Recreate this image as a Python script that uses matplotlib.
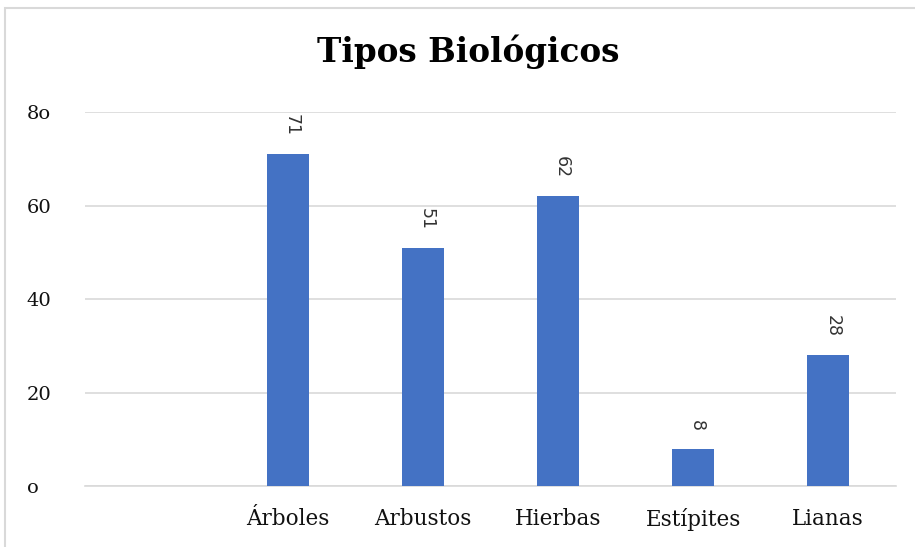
import matplotlib
matplotlib.use('Agg')
import matplotlib.pyplot as plt
from matplotlib.patches import Rectangle

# Tipos biologicos - conteo de especies
categorias = ['', 'Árboles', 'Arbustos', 'Hierbas', 'Estípites', 'Lianas']
valores = [0, 71, 51, 62, 8, 28]
yticks = [0, 20, 40, 60, 80]
ytick_labels = ['o', '20', '40', '60', '8o']

fig = plt.figure(figsize=(9.15, 5.47), dpi=100)
ax = fig.add_axes([0.093, 0.1115, 0.886, 0.6835])

x = range(len(categorias))
ax.bar(x[1:], valores[1:], width=0.31, color='#4472C4', zorder=3)

for xi, v in zip(x[1:], valores[1:]):
    ax.text(xi + 0.03, v + 3.8, str(v), rotation=-90, ha='center', va='bottom',
            fontsize=12.5, color='#333333', family='DejaVu Sans')

ax.set_xlim(-0.5, len(categorias) - 0.5)
ax.set_ylim(0, 80)
ax.set_yticks(yticks)
ax.set_yticklabels(ytick_labels, family='DejaVu Serif', fontsize=14, color='#111111')
ax.set_xticks(list(x))
ax.set_xticklabels(categorias, family='DejaVu Serif', fontsize=15.5, color='#111111')
ax.tick_params(axis='x', length=0, pad=16)
ax.tick_params(axis='y', length=0, pad=42)
for lbl in ax.get_yticklabels():
    lbl.set_horizontalalignment('left')

ax.grid(axis='y', color='#d9d9d9', linewidth=1.2, zorder=0)
for s in ['top', 'right', 'left']:
    ax.spines[s].set_visible(False)
ax.spines['bottom'].set_color('#d9d9d9')
ax.spines['bottom'].set_linewidth(1.2)

fig.text(0.512, 0.905, 'Tipos Biológicos', ha='center', va='center',
         fontsize=23.5, fontweight='bold', family='DejaVu Serif')

# marco exterior
fig.patches.append(Rectangle((0.006, -0.1), 1.2, 1.085, transform=fig.transFigure,
                             fill=False, edgecolor='#d9d9d9', linewidth=1.5))

fig.savefig('out.png', dpi=100)
